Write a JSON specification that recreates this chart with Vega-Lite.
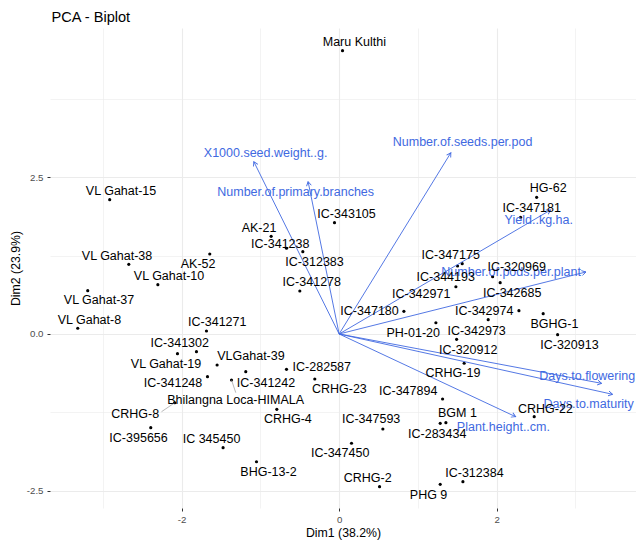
{
  "$schema": "https://vega.github.io/schema/vega-lite/v6.json",
  "width": 586,
  "height": 480,
  "autosize": {"type": "none"},
  "padding": {"left": 50, "top": 28, "right": 0, "bottom": 36},
  "background": "white",
  "config": {
    "font": "Liberation Sans",
    "view": {"stroke": null},
    "axis": {"domain": false, "labelFont": "Liberation Sans", "titleFont": "Liberation Sans"}
  },
  "title": {"text": "PCA - Biplot", "anchor": "start", "frame": "group", "fontSize": 14.6, "fontWeight": "normal", "color": "#000000", "offset": 7, "dy": 16, "dx": 1.5, "baseline": "alphabetic", "font": "Liberation Sans"},
  "datasets": {
    "ind": [
      {"name":"Maru Kulthi","x":0.043,"y":4.518,"lx":0.193,"ly":4.662},
      {"name":"VL Gahat-15","x":-2.912,"y":2.142,"lx":-2.768,"ly":2.281},
      {"name":"AK-21","x":-0.863,"y":1.558,"lx":-1.017,"ly":1.695},
      {"name":"IC-341238","x":-0.668,"y":1.367,"lx":-0.747,"ly":1.431},
      {"name":"IC-312383","x":-0.461,"y":1.313,"lx":-0.312,"ly":1.153},
      {"name":"AK-52","x":-1.642,"y":1.276,"lx":-1.790,"ly":1.111},
      {"name":"VL Gahat-38","x":-2.670,"y":1.111,"lx":-2.819,"ly":1.249},
      {"name":"VL Gahat-10","x":-2.301,"y":0.787,"lx":-2.159,"ly":0.925},
      {"name":"IC-341278","x":-0.499,"y":0.686,"lx":-0.347,"ly":0.824},
      {"name":"VL Gahat-37","x":-3.191,"y":0.691,"lx":-3.048,"ly":0.537},
      {"name":"VL Gahat-8","x":-3.318,"y":0.091,"lx":-3.170,"ly":0.223},
      {"name":"IC-341271","x":-1.684,"y":0.048,"lx":-1.547,"ly":0.186},
      {"name":"IC-343105","x":-0.059,"y":1.775,"lx":0.094,"ly":1.919},
      {"name":"HG-62","x":2.507,"y":2.180,"lx":2.654,"ly":2.324},
      {"name":"IC-347181","x":2.303,"y":1.861,"lx":2.445,"ly":2.005},
      {"name":"IC-347175","x":1.562,"y":1.121,"lx":1.416,"ly":1.260},
      {"name":"IC-344193","x":1.503,"y":1.085,"lx":1.353,"ly":0.909},
      {"name":"IC-342971","x":1.482,"y":0.754,"lx":1.041,"ly":0.633},
      {"name":"IC-320969","x":1.948,"y":0.914,"lx":2.253,"ly":1.073},
      {"name":"IC-342685","x":2.044,"y":0.818,"lx":2.196,"ly":0.649},
      {"name":"IC-347180","x":0.822,"y":0.362,"lx":0.386,"ly":0.362},
      {"name":"IC-342974","x":2.282,"y":0.372,"lx":1.841,"ly":0.362},
      {"name":"BGHG-1","x":2.590,"y":0.324,"lx":2.733,"ly":0.159},
      {"name":"PH-01-20","x":1.228,"y":0.180,"lx":0.940,"ly":0.011},
      {"name":"IC-342973","x":1.892,"y":0.228,"lx":1.745,"ly":0.053},
      {"name":"IC-320913","x":2.773,"y":-0.011,"lx":2.923,"ly":-0.175},
      {"name":"IC-320912","x":1.491,"y":-0.085,"lx":1.638,"ly":-0.255},
      {"name":"CRHG-19","x":1.587,"y":-0.467,"lx":1.444,"ly":-0.627},
      {"name":"IC-347894","x":1.313,"y":-1.037,"lx":0.876,"ly":-0.909},
      {"name":"BGM 1","x":1.355,"y":-1.414,"lx":1.501,"ly":-1.265},
      {"name":"IC-283434","x":1.283,"y":-1.425,"lx":1.245,"ly":-1.600},
      {"name":"CRHG-22","x":2.476,"y":-1.319,"lx":2.618,"ly":-1.191},
      {"name":"IC-347593","x":0.555,"y":-1.515,"lx":0.406,"ly":-1.361},
      {"name":"IC-347450","x":0.157,"y":-1.743,"lx":0.013,"ly":-1.903},
      {"name":"CRHG-2","x":0.513,"y":-2.435,"lx":0.362,"ly":-2.292},
      {"name":"PHG 9","x":1.283,"y":-2.398,"lx":1.135,"ly":-2.568},
      {"name":"IC-312384","x":1.571,"y":-2.355,"lx":1.717,"ly":-2.212},
      {"name":"CRHG-23","x":-0.309,"y":-0.718,"lx":0.003,"ly":-0.882},
      {"name":"IC-282587","x":-0.668,"y":-0.563,"lx":-0.220,"ly":-0.531},
      {"name":"CRHG-4","x":-0.791,"y":-1.201,"lx":-0.651,"ly":-1.360},
      {"name":"IC-341302","x":-1.811,"y":-0.282,"lx":-2.023,"ly":-0.139},
      {"name":"VL Gahat-19","x":-2.052,"y":-0.314,"lx":-2.197,"ly":-0.483},
      {"name":"VLGahat-39","x":-1.549,"y":-0.494,"lx":-1.119,"ly":-0.351},
      {"name":"IC-341248","x":-1.671,"y":-0.681,"lx":-2.108,"ly":-0.786},
      {"name":"IC-341242","x":-1.185,"y":-0.601,"lx":-0.928,"ly":-0.786},
      {"name":"Bhilangna Loca-HIMALA","x":-1.366,"y":-0.734,"lx":-1.314,"ly":-1.057},
      {"name":"CRHG-8","x":-2.086,"y":-1.096,"lx":-2.588,"ly":-1.281},
      {"name":"IC-395656","x":-2.391,"y":-1.494,"lx":-2.546,"ly":-1.664},
      {"name":"IC 345450","x":-1.473,"y":-1.813,"lx":-1.620,"ly":-1.675},
      {"name":"BHG-13-2","x":-1.049,"y":-2.037,"lx":-0.897,"ly":-2.196}
    ],
    "var": [
      {"name":"X1000.seed.weight..g.","x":-1.083,"y":2.748,"lx":-0.933,"ly":2.890},
      {"name":"Number.of.primary.branches","x":-0.394,"y":2.430,"lx":-0.552,"ly":2.270},
      {"name":"Number.of.seeds.per.pod","x":1.418,"y":2.890,"lx":1.567,"ly":3.060},
      {"name":"Yield..kg.ha.","x":2.684,"y":1.978,"lx":2.534,"ly":1.818},
      {"name":"Number.of.pods.per.plant","x":3.133,"y":0.989,"lx":2.183,"ly":0.994},
      {"name":"Days.to.flowering","x":3.332,"y":-0.787,"lx":3.149,"ly":-0.665},
      {"name":"Days.to.maturity","x":3.471,"y":-0.962,"lx":3.167,"ly":-1.116},
      {"name":"Plant.height..cm.","x":2.240,"y":-1.319,"lx":2.085,"ly":-1.488}
    ],
    "seg": [
      {"name":"CRHG-8","x":-2.086,"y":-1.096,"x2":-2.255,"y2":-1.240},
      {"name":"Bhilangna Loca-HIMALA","x":-1.366,"y":-0.734,"x2":-1.312,"y2":-0.936}
    ]
  },
  "layer": [
    {
      "data": {"name": "ind"},
      "mark": {"type": "circle", "size": 10, "color": "#000000", "opacity": 1},
      "encoding": {
        "x": {"field": "x", "type": "quantitative", "title": "Dim1 (38.2%)",
          "scale": {"domain": [-3.67, 3.768], "nice": false, "zero": false},
          "axis": {"values": [-3,-2,-1,0,1,2,3],
            "labelExpr": "datum.value == -2 ? '-2' : datum.value == 0 ? '0' : datum.value == 2 ? '2' : ''",
            "tickSize": 3, "tickColor": {"condition": {"test": "datum.value % 2 != 0", "value": "transparent"}, "value": "#333333"},
            "gridColor": "#ebebeb", "gridWidth": {"condition": {"test": "datum.value % 2 != 0", "value": 0.6}, "value": 1.1},
            "labelColor": "#4d4d4d", "labelFontSize": 9.7, "labelPadding": 3,
            "titleFontSize": 12.3, "titleFontWeight": "normal", "titleColor": "#000000", "titlePadding": 3}},
        "y": {"field": "y", "type": "quantitative", "title": "Dim2 (23.9%)",
          "scale": {"domain": [-2.775, 4.88], "nice": false, "zero": false},
          "axis": {"values": [-2.5,-1.25,0,1.25,2.5,3.75],
            "labelExpr": "datum.value == 2.5 ? '2.5' : datum.value == 0 ? '0.0' : datum.value == -2.5 ? '-2.5' : ''",
            "tickSize": 3, "tickColor": {"condition": {"test": "datum.value % 2.5 != 0", "value": "transparent"}, "value": "#333333"},
            "gridColor": "#ebebeb", "gridWidth": {"condition": {"test": "datum.value % 2.5 != 0", "value": 0.6}, "value": 1.1},
            "labelColor": "#4d4d4d", "labelFontSize": 9.7, "labelPadding": 4,
            "titleFontSize": 12.3, "titleFontWeight": "normal", "titleColor": "#000000", "titlePadding": 4}}
      }
    },
    {
      "mark": {"type": "rule", "color": "#222222", "strokeWidth": 1.1, "strokeDash": [5, 3]},
      "encoding": {"x": {"datum": 0, "type": "quantitative", "title": "Dim1 (38.2%)"}}
    },
    {
      "mark": {"type": "rule", "color": "#222222", "strokeWidth": 1.1, "strokeDash": [5, 3]},
      "encoding": {"y": {"datum": 0, "type": "quantitative", "title": "Dim2 (23.9%)"}}
    },
    {
      "data": {"name": "var"},
      "mark": {"type": "rule", "color": "#4169E1", "strokeWidth": 0.9},
      "encoding": {
        "x": {"field": "x", "type": "quantitative", "title": "Dim1 (38.2%)"},
        "y": {"field": "y", "type": "quantitative", "title": "Dim2 (23.9%)"},
        "x2": {"datum": 0},
        "y2": {"datum": 0}
      }
    },
    {
      "data": {"name": "var"},
      "transform": [{"calculate": "atan2(datum.x * 78.78, datum.y * 62.7) * 180 / PI", "as": "angle"}],
      "mark": {"type": "point", "shape": "M -0.577 1 L 0 0 L 0.577 1", "filled": false, "color": "#4169E1", "strokeWidth": 0.9, "size": 70, "opacity": 1},
      "encoding": {
        "x": {"field": "x", "type": "quantitative", "title": "Dim1 (38.2%)"},
        "y": {"field": "y", "type": "quantitative", "title": "Dim2 (23.9%)"},
        "angle": {"field": "angle", "type": "quantitative", "scale": null}
      }
    },
    {
      "data": {"name": "var"},
      "mark": {"type": "text", "color": "#4169E1", "fontSize": 12.5, "font": "Liberation Sans", "align": "center", "baseline": "middle"},
      "encoding": {
        "x": {"field": "lx", "type": "quantitative", "title": "Dim1 (38.2%)"},
        "y": {"field": "ly", "type": "quantitative", "title": "Dim2 (23.9%)"},
        "text": {"field": "name"}
      }
    },
    {
      "data": {"name": "seg"},
      "mark": {"type": "rule", "color": "#888888", "strokeWidth": 0.6},
      "encoding": {
        "x": {"field": "x", "type": "quantitative", "title": "Dim1 (38.2%)"},
        "y": {"field": "y", "type": "quantitative", "title": "Dim2 (23.9%)"},
        "x2": {"field": "x2"},
        "y2": {"field": "y2"}
      }
    },
    {
      "data": {"name": "ind"},
      "mark": {"type": "text", "color": "#000000", "fontSize": 12.5, "font": "Liberation Sans", "align": "center", "baseline": "middle"},
      "encoding": {
        "x": {"field": "lx", "type": "quantitative", "title": "Dim1 (38.2%)"},
        "y": {"field": "ly", "type": "quantitative", "title": "Dim2 (23.9%)"},
        "text": {"field": "name"}
      }
    }
  ]
}
